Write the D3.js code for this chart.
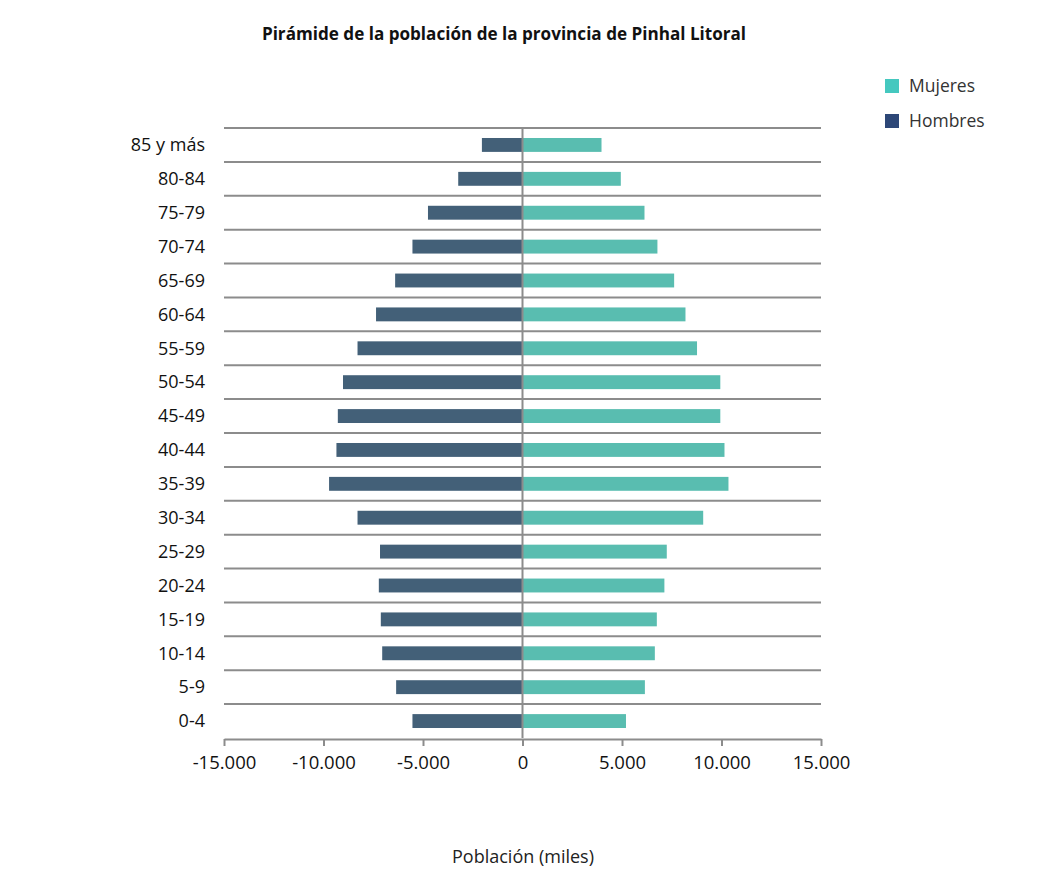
<!DOCTYPE html>
<html>
<head>
<meta charset="utf-8">
<script src="https://cdn.jsdelivr.net/npm/d3@7"></script>
<style>
  body { margin: 0; background: #fff; }
  text { font-family: "Open Sans", sans-serif; }
</style>
</head>
<body>
<script>
// grupos de edad, de arriba abajo
var grupos = ["85 y más", "80-84", "75-79", "70-74", "65-69", "60-64", "55-59", "50-54",
  "45-49", "40-44", "35-39", "30-34", "25-29", "20-24", "15-19", "10-14", "5-9", "0-4"];
var hombres = [2040, 3230, 4750, 5530, 6400, 7360, 8290, 9020,
  9280, 9350, 9720, 8290, 7160, 7220, 7120, 7050, 6350, 5530];
var mujeres = [3970, 4940, 6130, 6780, 7620, 8190, 8770, 9940,
  9940, 10150, 10350, 9080, 7250, 7130, 6750, 6650, 6150, 5200];
var ticks = [-15000, -10000, -5000, 0, 5000, 10000, 15000];

var width = 1042, height = 895;

var svg = d3.select("body").append("svg")
    .attr("width", width)
    .attr("height", height);

var x = d3.scaleLinear().domain([-15000, 15000]).range([224, 821]);
var y = d3.scaleBand().domain(grupos).range([128, 738])
    .paddingInner(0.59).paddingOuter(0.295);

var loc = d3.formatLocale({decimal: ",", thousands: ".", grouping: [3], currency: ["", ""], minus: "-"});
var fmt = loc.format(",");

// lineas horizontales entre grupos
var gap = (y.step() - y.bandwidth()) / 2;
svg.selectAll(".grid")
    .data(grupos)
  .enter().append("line")
    .attr("class", "grid")
    .attr("x1", x(-15000)).attr("x2", x(15000))
    .attr("y1", function(d) { return y(d) - gap; })
    .attr("y2", function(d) { return y(d) - gap; })
    .attr("stroke", "#8c8c8c")
    .attr("stroke-width", 2);

// barras hombres
svg.selectAll(".hom")
    .data(grupos)
  .enter().append("rect")
    .attr("class", "hom")
    .attr("x", function(d, i) { return x(-hombres[i]); })
    .attr("y", function(d) { return y(d); })
    .attr("width", function(d, i) { return x(0) - x(-hombres[i]); })
    .attr("height", y.bandwidth())
    .attr("fill", "#436078");

// barras mujeres
svg.selectAll(".muj")
    .data(grupos)
  .enter().append("rect")
    .attr("class", "muj")
    .attr("x", x(0))
    .attr("y", function(d) { return y(d); })
    .attr("width", function(d, i) { return x(mujeres[i]) - x(0); })
    .attr("height", y.bandwidth())
    .attr("fill", "#59bdb0");

// linea del cero
svg.append("line")
    .attr("x1", x(0)).attr("x2", x(0))
    .attr("y1", 128).attr("y2", 738)
    .attr("stroke", "#8c8c8c")
    .attr("stroke-width", 2);

// eje x
var ax = svg.append("g")
    .attr("transform", "translate(0,739)")
    .call(d3.axisBottom(x).tickValues(ticks).tickFormat(fmt).tickSize(7).tickSizeOuter(0).tickPadding(10));
ax.select(".domain").attr("stroke", "#8c8c8c").attr("stroke-width", 2);
ax.selectAll(".tick line").attr("stroke", "#8c8c8c").attr("stroke-width", 2);
ax.selectAll(".tick text")
    .attr("fill", "#111")
    .style("font-size", "18.5px")
    .style("font-family", "'Open Sans', sans-serif");

// etiquetas de grupos
svg.selectAll(".lab")
    .data(grupos)
  .enter().append("text")
    .attr("class", "lab")
    .attr("x", 205)
    .attr("y", function(d) { return y(d) + y.bandwidth() / 2; })
    .attr("dy", "0.35em")
    .attr("text-anchor", "end")
    .style("font-size", "18px")
    .attr("fill", "#111")
    .text(function(d) { return d; });

// titulo
svg.append("text")
    .attr("x", 504)
    .attr("y", 40)
    .attr("text-anchor", "middle")
    .style("font-size", "17.1px")
    .style("font-weight", "bold")
    .attr("fill", "#111")
    .text("Pirámide de la población de la provincia de Pinhal Litoral");

// titulo del eje
svg.append("text")
    .attr("x", 523)
    .attr("y", 863)
    .attr("text-anchor", "middle")
    .style("font-size", "18px")
    .attr("fill", "#222")
    .text("Población (miles)");

// leyenda
var leyenda = [["Mujeres", "#45c8bf"], ["Hombres", "#2d4777"]];
var lg = svg.selectAll(".leg")
    .data(leyenda)
  .enter().append("g")
    .attr("class", "leg")
    .attr("transform", function(d, i) { return "translate(885," + (79 + i * 35) + ")"; });
lg.append("rect").attr("width", 14).attr("height", 14).attr("fill", function(d) { return d[1]; });
lg.append("text")
    .attr("x", 24).attr("y", 7).attr("dy", "0.35em")
    .style("font-size", "17.5px")
    .attr("fill", "#333")
    .text(function(d) { return d[0]; });
</script>
</body>
</html>
